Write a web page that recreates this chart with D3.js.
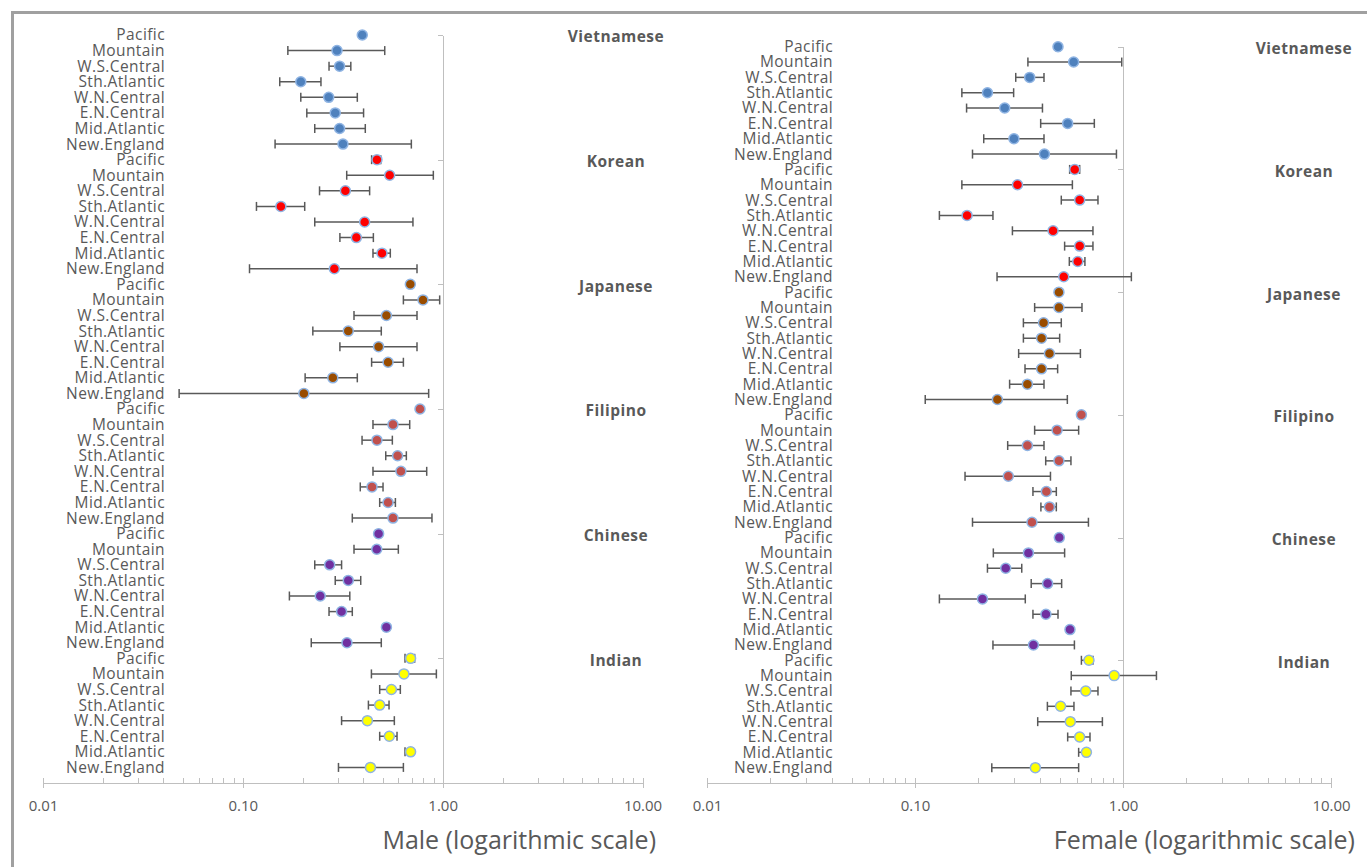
<!DOCTYPE html>
<html lang="en">
<head>
  <meta charset="utf-8">
  <title>Male / Female log-scale estimates</title>
  <script type="text/javascript" src="https://cdn.jsdelivr.net/npm/d3@7"></script>
  <style>
    body { margin: 0; background: #fff; }
    svg { display: block; }
    .row-label { font-family: "Open Sans", sans-serif; font-size: 15.5px; letter-spacing: 0.4px; fill: #595959; }
    .group-label { font-family: "Open Sans", sans-serif; font-size: 15.5px; font-weight: bold; letter-spacing: 0.5px; fill: #595959; }
    .axis-title { font-family: "Open Sans", sans-serif; font-size: 25px; fill: #595959; }
    .xaxis text { font-family: "Open Sans", sans-serif; font-size: 15px; fill: #595959; }
    .xaxis path, .xaxis line, .yaxis path, .yaxis line { stroke: #bfbfbf; shape-rendering: crispEdges; }
    .bar { stroke: #595959; stroke-width: 1.5; fill: none; }
  </style>
</head>
<body>
<script type="text/javascript">

  var w = 1367;
  var h = 867;

  // categories
  var regions = ["Pacific", "Mountain", "W.S.Central", "Sth.Atlantic",
                 "W.N.Central", "E.N.Central", "Mid.Atlantic", "New.England"];
  var groups = ["Vietnamese", "Korean", "Japanese", "Filipino", "Chinese", "Indian"];
  var groupColors = ["#4f81bd", "#ff0000", "#994c00", "#c0504d", "#7030a0", "#ffff00"];
  var xTicks = [0.01, 0.1, 1, 10];

  // male estimates and intervals (rows follow regions, one list per group)
  var maleEst = [
    [0.396, 0.296, 0.305, 0.195, 0.269, 0.290, 0.305, 0.317],
    [0.469, 0.543, 0.326, 0.155, 0.407, 0.370, 0.497, 0.287],
    [0.689, 0.797, 0.523, 0.337, 0.478, 0.533, 0.282, 0.202],
    [0.770, 0.564, 0.469, 0.595, 0.618, 0.443, 0.533, 0.564],
    [0.478, 0.468, 0.272, 0.337, 0.244, 0.312, 0.523, 0.332],
    [0.691, 0.640, 0.554, 0.484, 0.420, 0.541, 0.691, 0.435]
  ];
  var maleLow = [
    [0.385, 0.168, 0.270, 0.153, 0.195, 0.209, 0.229, 0.145],
    [0.441, 0.331, 0.242, 0.117, 0.229, 0.306, 0.448, 0.108],
    [0.675, 0.636, 0.360, 0.224, 0.306, 0.441, 0.205, 0.048],
    [0.755, 0.448, 0.395, 0.519, 0.448, 0.387, 0.484, 0.353],
    [0.465, 0.360, 0.229, 0.290, 0.171, 0.270, 0.510, 0.220],
    [0.648, 0.440, 0.484, 0.425, 0.312, 0.484, 0.648, 0.301]
  ];
  var maleHigh = [
    [0.405, 0.513, 0.347, 0.246, 0.374, 0.402, 0.410, 0.697],
    [0.490, 0.898, 0.431, 0.204, 0.710, 0.450, 0.547, 0.744],
    [0.700, 0.966, 0.744, 0.493, 0.744, 0.636, 0.374, 0.851],
    [0.785, 0.684, 0.560, 0.658, 0.832, 0.503, 0.580, 0.884],
    [0.490, 0.600, 0.312, 0.389, 0.343, 0.353, 0.535, 0.493],
    [0.724, 0.930, 0.614, 0.539, 0.573, 0.591, 0.710, 0.636]
  ];

  // female estimates and intervals
  var femaleEst = [
    [0.487, 0.579, 0.356, 0.223, 0.270, 0.542, 0.299, 0.419],
    [0.586, 0.311, 0.619, 0.178, 0.461, 0.619, 0.606, 0.519],
    [0.492, 0.492, 0.415, 0.406, 0.443, 0.406, 0.347, 0.249],
    [0.631, 0.482, 0.347, 0.492, 0.281, 0.428, 0.443, 0.365],
    [0.494, 0.351, 0.273, 0.434, 0.211, 0.426, 0.556, 0.371],
    [0.686, 0.907, 0.662, 0.501, 0.558, 0.619, 0.667, 0.379]
  ];
  var femaleLow = [
    [0.475, 0.349, 0.305, 0.168, 0.177, 0.402, 0.214, 0.189],
    [0.554, 0.168, 0.505, 0.131, 0.294, 0.524, 0.552, 0.248],
    [0.480, 0.376, 0.332, 0.332, 0.315, 0.338, 0.285, 0.112],
    [0.620, 0.376, 0.279, 0.425, 0.174, 0.369, 0.403, 0.189],
    [0.480, 0.238, 0.223, 0.362, 0.131, 0.369, 0.545, 0.237],
    [0.631, 0.564, 0.562, 0.433, 0.389, 0.542, 0.612, 0.234]
  ];
  var femaleHigh = [
    [0.500, 0.986, 0.417, 0.298, 0.410, 0.728, 0.417, 0.930],
    [0.619, 0.571, 0.758, 0.237, 0.717, 0.717, 0.656, 1.097],
    [0.505, 0.635, 0.505, 0.496, 0.624, 0.485, 0.417, 0.540],
    [0.645, 0.612, 0.417, 0.562, 0.448, 0.478, 0.478, 0.682],
    [0.505, 0.524, 0.326, 0.507, 0.339, 0.487, 0.570, 0.584],
    [0.717, 1.448, 0.758, 0.581, 0.796, 0.694, 0.680, 0.612]
  ];

  var nRows = groups.length * regions.length;   // 48

  var svg = d3.select("body")
    .append("svg")
    .attr("width", w)
    .attr("height", h);

  // grey frame round the whole chart
  svg.append("rect")
    .attr("x", 12.5)
    .attr("y", 12.5)
    .attr("width", w + 50)
    .attr("height", h + 50)
    .attr("fill", "none")
    .attr("stroke", "#a0a0a0")
    .attr("stroke-width", 3);

  function rowValue(g, r) {
    return nRows - g * regions.length - r;
  }

  function drawPanel(p) {
    var xScale = d3.scaleLog()
      .domain([0.01, 10])
      .range([p.left, p.right]);

    var yScale = d3.scaleLinear()
      .domain([0, nRows])
      .range([p.bottom, p.top]);

    var panel = svg.append("g");

    // x axis with decade labels
    var xAxis = d3.axisBottom(xScale)
      .tickValues(xTicks)
      .tickFormat(d3.format(".2f"))
      .tickSizeOuter(0)
      .tickSizeInner(5);

    var gx = panel.append("g")
      .attr("class", "xaxis")
      .attr("transform", "translate(0," + yScale(0) + ")")
      .call(xAxis);
    gx.selectAll(".tick line").attr("y1", -5).attr("y2", 5);
    gx.selectAll(".tick text").attr("y", 17);

    // minor ticks 2..9 in each decade
    var minor = [];
    [0.01, 0.1, 1].forEach(function (d) {
      for (var k = 2; k <= 9; k++) minor.push(d * k);
    });
    gx.selectAll("line.minor")
      .data(minor)
      .enter()
      .append("line")
      .attr("class", "minor")
      .attr("x1", function (d) { return Math.round(xScale(d)) + 0.5; })
      .attr("x2", function (d) { return Math.round(xScale(d)) + 0.5; })
      .attr("y1", -5)
      .attr("y2", 0);

    // vertical axis at 1.00 with ticks at group boundaries
    var yAxis = d3.axisLeft(yScale)
      .tickValues(d3.range(1, groups.length + 1).map(function (i) { return i * regions.length; }))
      .tickFormat("")
      .tickSizeOuter(0)
      .tickSizeInner(5);

    panel.append("g")
      .attr("class", "yaxis")
      .attr("transform", "translate(" + xScale(1) + ",0)")
      .call(yAxis);

    // one record per row
    var rows = [];
    groups.forEach(function (grp, g) {
      regions.forEach(function (reg, r) {
        rows.push({
          region: reg,
          color: groupColors[g],
          y: rowValue(g, r),
          est: p.est[g][r],
          lo: p.low[g][r],
          hi: p.high[g][r]
        });
      });
    });

    // region labels
    panel.selectAll("text.row-label")
      .data(rows)
      .enter()
      .append("text")
      .attr("class", "row-label")
      .attr("x", p.labelX)
      .attr("y", function (d) { return yScale(d.y); })
      .attr("dy", "0.35em")
      .attr("text-anchor", "end")
      .text(function (d) { return d.region; });

    // group labels
    panel.selectAll("text.group-label")
      .data(groups)
      .enter()
      .append("text")
      .attr("class", "group-label")
      .attr("x", p.groupX)
      .attr("y", function (d, g) { return yScale(rowValue(g, 0)) + 2; })
      .attr("dy", "0.35em")
      .attr("text-anchor", "middle")
      .text(function (d) { return d; });

    // error bars
    var bars = panel.selectAll("g.err")
      .data(rows)
      .enter()
      .append("g")
      .attr("class", "err")
      .attr("transform", function (d) { return "translate(0," + yScale(d.y) + ")"; });

    bars.append("line")
      .attr("class", "bar")
      .attr("x1", function (d) { return xScale(d.lo); })
      .attr("x2", function (d) { return xScale(d.hi); });
    bars.append("line")
      .attr("class", "bar")
      .attr("x1", function (d) { return xScale(d.lo); })
      .attr("x2", function (d) { return xScale(d.lo); })
      .attr("y1", -4.5)
      .attr("y2", 4.5);
    bars.append("line")
      .attr("class", "bar")
      .attr("x1", function (d) { return xScale(d.hi); })
      .attr("x2", function (d) { return xScale(d.hi); })
      .attr("y1", -4.5)
      .attr("y2", 4.5);

    // markers
    panel.selectAll("circle")
      .data(rows)
      .enter()
      .append("circle")
      .attr("cx", function (d) { return xScale(d.est); })
      .attr("cy", function (d) { return yScale(d.y); })
      .attr("r", 5)
      .attr("fill", function (d) { return d.color; })
      .attr("stroke", "#8fb4e3")
      .attr("stroke-width", 1.5);

    // axis title
    panel.append("text")
      .attr("class", "axis-title")
      .attr("x", p.titleX)
      .attr("y", 849)
      .attr("text-anchor", "end")
      .text(p.title);
  }

  drawPanel({
    left: 43, right: 642.5, top: 35, bottom: 783,
    labelX: 165, groupX: 616, titleX: 656,
    est: maleEst, low: maleLow, high: maleHigh,
    title: "Male (logarithmic scale)"
  });

  drawPanel({
    left: 707, right: 1331, top: 46.7, bottom: 783,
    labelX: 833, groupX: 1304, titleX: 1355,
    est: femaleEst, low: femaleLow, high: femaleHigh,
    title: "Female (logarithmic scale)"
  });

</script>
</body>
</html>
